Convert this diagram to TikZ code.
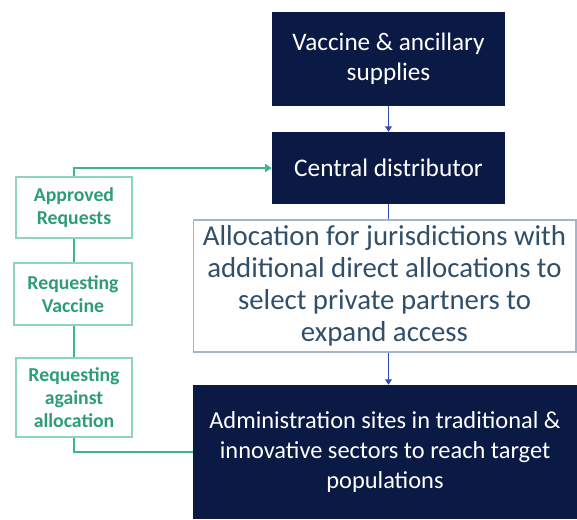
\documentclass[tikz,border=0pt]{standalone}
\usepackage{fontspec}
\setmainfont{Carlito}
\usetikzlibrary{arrows.meta}
\definecolor{navybox}{HTML}{0B1A45}
\definecolor{reqline}{HTML}{3DB58E}
\definecolor{reqtext}{HTML}{2E9C78}
\definecolor{reqborder}{HTML}{8ED5BD}
\definecolor{alloctext}{HTML}{2F4F6A}
\definecolor{allocborder}{HTML}{A3B6C9}
\definecolor{flowblue}{HTML}{2F4DB0}

\tikzset{
  navybox/.style={fill=navybox, text=white, align=center, inner sep=0pt},
  reqbox/.style={draw=reqborder, line width=1pt, text=reqtext, align=center, inner sep=0pt,
    font=\fontsize{14.8pt}{17.5pt}\selectfont\bfseries},
  flowline/.style={draw=flowblue, line width=1.4pt},
  reqlink/.style={draw=reqline, line width=2pt},
}

\begin{document}
\begin{tikzpicture}[x=0.75pt, y=-0.75pt]%
\useasboundingbox (0,0) rectangle (577,519);%
% supply chain
\node[navybox, minimum width=174.75pt, minimum height=70.5pt, font=\fontsize{18.9pt}{22.5pt}\selectfont] (supplies) at (388.5,59) {Vaccine \& ancillary\\supplies};%
\node[navybox, minimum width=174.75pt, minimum height=54pt, font=\fontsize{19pt}{22.5pt}\selectfont] (central) at (388.5,168) {Central distributor};%
\node[draw=allocborder, line width=1pt, text=alloctext, align=center, inner sep=0pt, minimum width=287pt, minimum height=99pt, font=\fontsize{21.6pt}{24pt}\selectfont] (alloc) at (384.5,286) {Allocation for jurisdictions with\\additional direct allocations to\\select private partners to\\expand access};%
\node[navybox, minimum width=288pt, minimum height=100.5pt, font=\fontsize{18.3pt}{22.5pt}\selectfont] (admin) at (385,452) {Administration sites in traditional \&\\innovative sectors to reach target\\populations};%
% requests
\node[reqbox, minimum width=87pt, minimum height=45.75pt] (approved) at (74,207.5) {Approved\\Requests};%
\node[reqbox, minimum width=88.5pt, minimum height=46.5pt] (reqvaccine) at (73,294) {Requesting\\Vaccine};%
\node[reqbox, minimum width=87pt, minimum height=59.25pt] (reqalloc) at (74,397.5) {Requesting\\against\\allocation};%
% connectors
\draw[flowline, -{Triangle[length=4pt, width=5pt]}] (supplies.south) -- (central.north);%
\draw[flowline] (central.south) -- (central.south |- alloc.north);%
\draw[flowline, -{Triangle[length=4pt, width=5pt]}] (central.south |- alloc.south) -- (central.south |- admin.north);%
\draw[reqlink, -{Triangle[length=5pt, width=6pt]}] (approved.north) |- (central.west);%
\draw[reqlink] (approved.south) -- (approved.south |- reqvaccine.north);%
\draw[reqlink] (reqvaccine.south -| approved.south) -- (approved.south |- reqalloc.north);%
\draw[reqlink] (reqalloc.south) |- (admin.west);%
\end{tikzpicture}
\end{document}
